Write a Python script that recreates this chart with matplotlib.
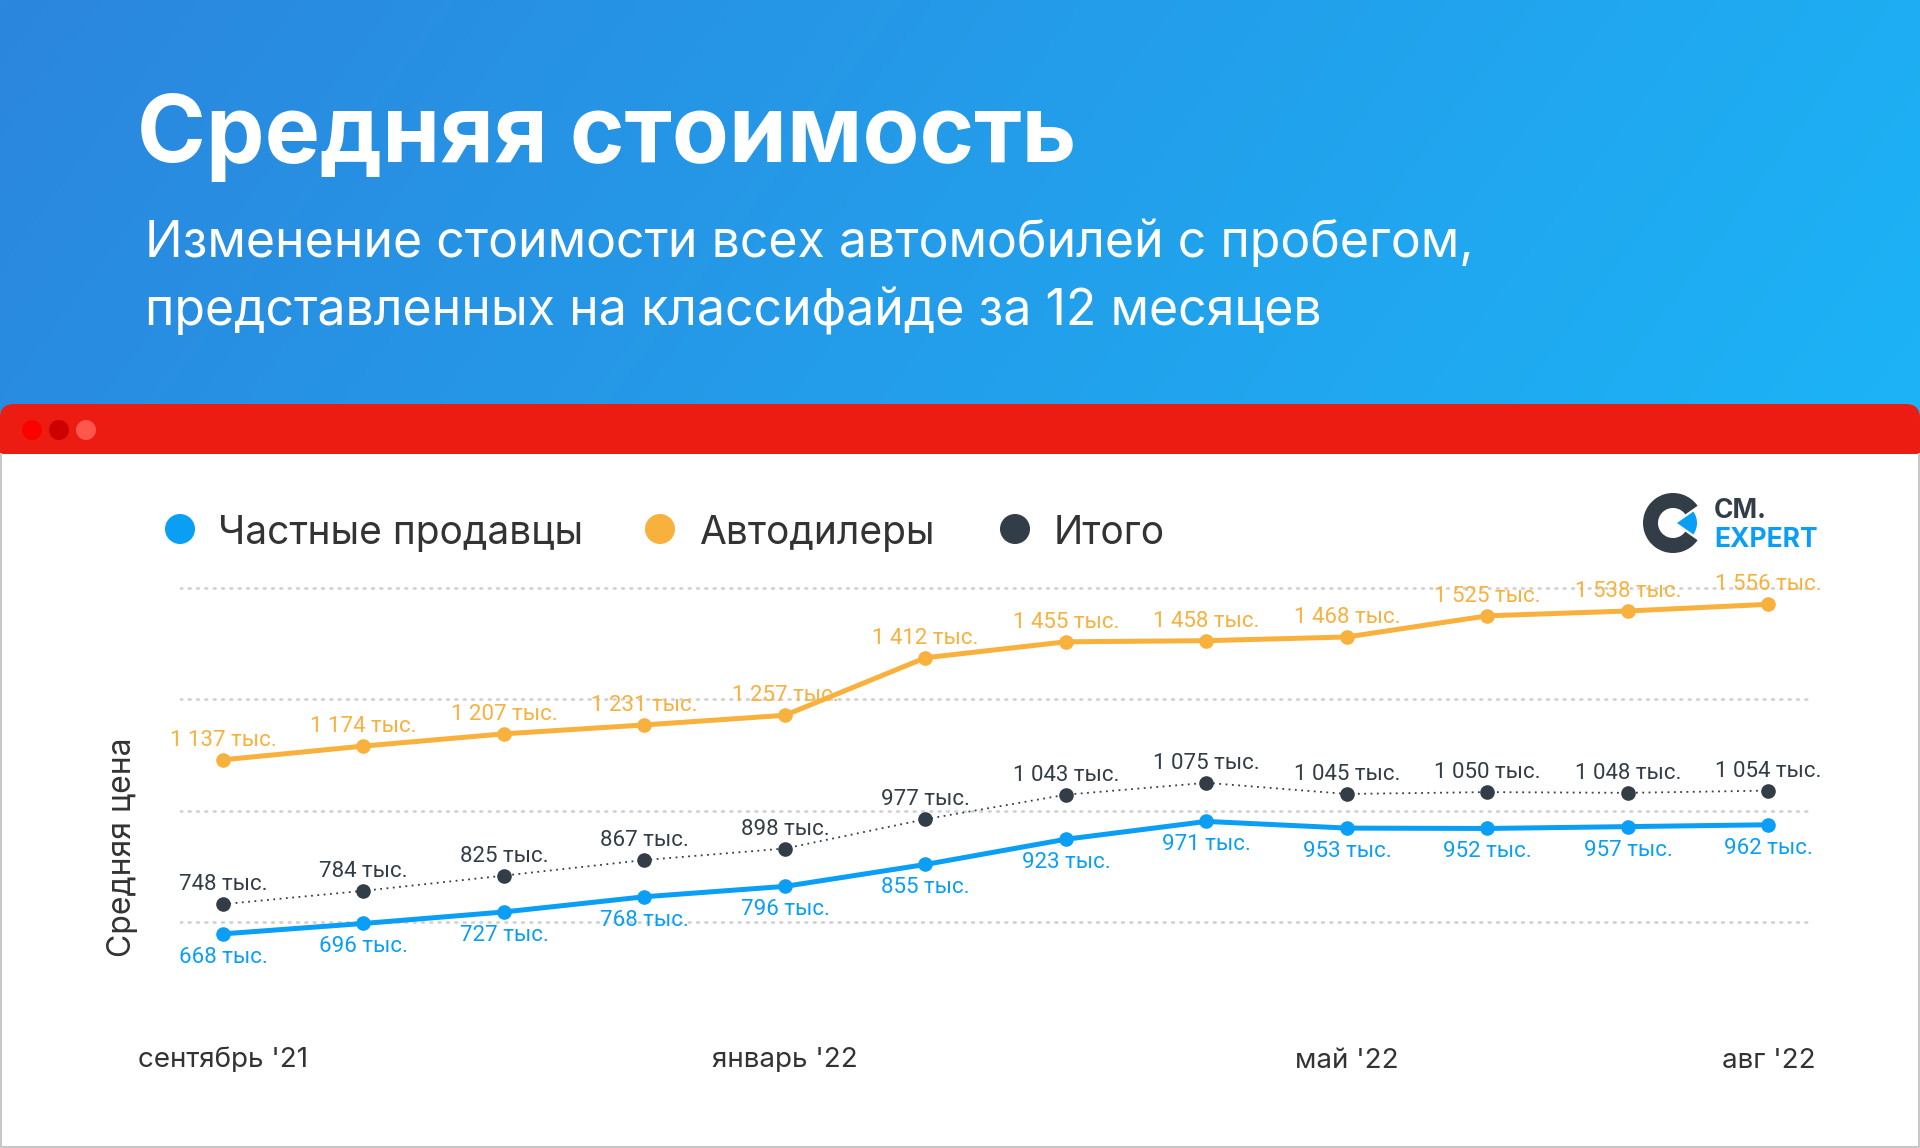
import numpy as np
import matplotlib
matplotlib.use('Agg')
import matplotlib.pyplot as plt
from matplotlib.patches import Rectangle, FancyBboxPatch, Circle, Wedge
from matplotlib.colors import to_rgb

plt.rcParams['font.family'] = ['Inter', 'DejaVu Sans']

# ---- данные ----
tick_idx = [0, 4, 8, 11]
tick_labels = ["сентябрь '21", "январь '22", "май '22", "авг '22"]
private = [668, 696, 727, 768, 796, 855, 923, 971, 953, 952, 957, 962]
dealers = [1137, 1174, 1207, 1231, 1257, 1412, 1455, 1458, 1468, 1525, 1538, 1556]
total = [748, 784, 825, 867, 898, 977, 1043, 1075, 1045, 1050, 1048, 1054]
grid_vals = [700, 1000, 1300, 1600]
legend_names = ['Частные продавцы', 'Автодилеры', 'Итого']

BLUE = '#0a9ff5'
ORANGE = '#f7b13c'
DARK = '#333d47'
TEXT = '#333333'

W, H = 1920, 1148
fig = plt.figure(figsize=(W / 100, H / 100), dpi=100)

# фон в пиксельных координатах
bg = fig.add_axes([0, 0, 1, 1])
bg.set_xlim(0, W)
bg.set_ylim(H, 0)
bg.axis('off')

# градиент шапки
c0 = np.array(to_rgb('#2b86dd'))
c1 = np.array(to_rgb('#1cb4f6'))
gx = np.linspace(0, 1, 400)[None, :]
gy = np.linspace(0, 1, 100)[:, None]
t = np.clip(0.85 * gx + 0.15 * gy, 0, 1)
img = c0[None, None, :] * (1 - t[..., None]) + c1[None, None, :] * t[..., None]
bg.imshow(img, extent=[0, W, 460, 0], aspect='auto', zorder=0)

bg.add_patch(FancyBboxPatch((0, 404), W, 80, boxstyle='round,pad=0,rounding_size=14',
                            fc='#ec1c12', ec='none', zorder=1))
bg.add_patch(Rectangle((0, 454), W, H - 454, fc='white', ec='none', zorder=2))
for cx, col in zip([32, 59, 86], ['#ff0000', '#cc0000', '#ff574c']):
    bg.add_patch(Circle((cx, 430), 10, fc=col, ec='none', zorder=3))

# рамка
bg.plot([1, 1], [454, H - 1], color='#c8c8c8', lw=1.5, zorder=3)
bg.plot([W - 1, W - 1], [454, H - 1], color='#c8c8c8', lw=1.5, zorder=3)
bg.plot([0, W], [H - 1, H - 1], color='#c8c8c8', lw=1.5, zorder=3)

# заголовки
bg.text(137, 162, 'Средняя стоимость', fontsize=67, fontweight='bold',
        color='white', va='baseline', zorder=4)
bg.text(145, 257, 'Изменение стоимости всех автомобилей с пробегом,',
        fontsize=36, color='white', va='baseline', zorder=4)
bg.text(145, 325, 'представленных на классифайде за 12 месяцев',
        fontsize=36, color='white', va='baseline', zorder=4)

# легенда
for (cx, tx), name, col in zip([(180, 218), (660, 699), (1015, 1054)],
                               legend_names, [BLUE, ORANGE, DARK]):
    bg.add_patch(Circle((cx, 529), 15, fc=col, ec='none', zorder=4))
    bg.text(tx, 529, name, fontsize=28, color=TEXT, va='center_baseline', zorder=4)

# логотип
bg.add_patch(Wedge((1673, 523), 30, 35, 325, width=15, fc=DARK, ec='none', zorder=4))
bg.add_patch(Wedge((1677, 523), 20, -35, 35, fc=BLUE, ec='none', zorder=4))
bg.text(1714, 518, 'СМ.', fontsize=19, fontweight='bold', color=DARK,
        va='baseline', zorder=4)
bg.text(1714, 547, 'EXPERT', fontsize=19, fontweight='bold', color=BLUE,
        va='baseline', zorder=4)

bg.text(122, 847, 'Средняя цена', rotation=90, fontsize=23, color=TEXT,
        ha='center', va='center', zorder=4)

# график
ax = fig.add_axes([180 / W, 1 - 960 / H, (1812 - 180) / W, 400 / H])
ax.patch.set_alpha(0)
ax.set_xlim(-0.306, 11.31)
ax.set_ylim(597.6, 1675.4)
for s in ax.spines.values():
    s.set_visible(False)
ax.set_yticks(grid_vals)
ax.tick_params(axis='y', length=0, labelleft=False)
ax.yaxis.grid(True, color='#d2d2d2', lw=2, ls=(0, (0.6, 2.4)), dash_capstyle='round')
ax.set_axisbelow(True)
ax.set_xticks(tick_idx, tick_labels)
ax.tick_params(axis='x', length=0, pad=63, labelsize=20, labelcolor=TEXT)

x = np.arange(len(private))
ax.plot(x, total, color=DARK, lw=1.3, ls=(0, (1, 2.5)), marker='o', ms=9.5, zorder=3)
ax.plot(x, dealers, color=ORANGE, lw=3.6, marker='o', ms=9.5, zorder=4)
ax.plot(x, private, color=BLUE, lw=3.6, marker='o', ms=9.5, zorder=4)


def fmt(v):
    return f'{v:,}'.replace(',', ' ') + ' тыс.'


for i in range(len(x)):
    kw = dict(textcoords='offset pixels', ha='center', va='baseline',
              fontsize=16, family=['Roboto', 'DejaVu Sans'], zorder=5)
    ax.annotate(fmt(dealers[i]), (x[i], dealers[i]), xytext=(0, 14), color=ORANGE, **kw)
    ax.annotate(fmt(total[i]), (x[i], total[i]), xytext=(0, 14), color=DARK, **kw)
    ax.annotate(fmt(private[i]), (x[i], private[i]), xytext=(0, -29), color=BLUE, **kw)

fig.savefig('out.png', dpi=100)
